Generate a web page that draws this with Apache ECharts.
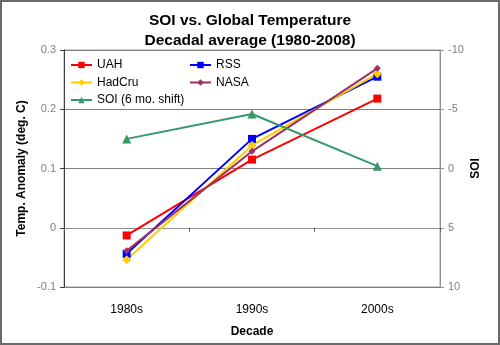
<!DOCTYPE html>
<html>
<head>
<meta charset="utf-8">
<script src="https://cdn.jsdelivr.net/npm/echarts@6/dist/echarts.min.js"></script>
<style>
  html, body { margin: 0; padding: 0; background: #fff; }
  #chart { width: 500px; height: 345px; box-sizing: border-box; border: 2px solid #6a6a6a; }
</style>
</head>
<body>
<div id="chart"></div>
<script>
// Decadal averages of temperature anomaly (deg. C) and SOI
const decades = ['1980s', '1990s', '2000s'];
const uah = [-0.013, 0.115, 0.218];
const rss = [-0.044, 0.150, 0.255];
const hadcru = [-0.054, 0.139, 0.260];
const nasa = [-0.039, 0.129, 0.269];
const soi = [-2.5, -4.6, -0.2];

const chart = echarts.init(document.getElementById('chart'));
const font = 'Liberation Sans, Arial, sans-serif';

function lineSeries(name, data, color, symbol, size, yIndex) {
  return {
    name: name, type: 'line', data: data, yAxisIndex: yIndex || 0,
    symbol: symbol, symbolSize: size, showSymbol: true,
    lineStyle: { color: color, width: 2 },
    itemStyle: { color: color },
    emphasis: { disabled: true },
    animation: false
  };
}

const legendText = { fontFamily: font, fontSize: 12, color: '#000' };

chart.setOption({
  animation: false,
  textStyle: { fontFamily: font },
  title: {
    text: 'SOI vs. Global Temperature\nDecadal average (1980-2008)',
    left: 'center', top: 4,
    textStyle: { fontFamily: font, fontSize: 15.5, fontWeight: 'bold', color: '#000', lineHeight: 20 }
  },
  legend: [
    {
      data: ['UAH', 'HadCru', 'SOI (6 mo. shift)'],
      orient: 'vertical', left: 68, top: 57, padding: 0, itemGap: 5.5,
      itemWidth: 21, itemHeight: 8, textStyle: legendText
    },
    {
      data: ['RSS', 'NASA'],
      orient: 'vertical', left: 187, top: 57, padding: 0, itemGap: 5.5,
      itemWidth: 21, itemHeight: 8, textStyle: legendText
    }
  ],
  grid: { left: 62, right: 58, top: 48, bottom: 52, show: true, borderColor: '#a0a0a0', borderWidth: 1 },
  xAxis: {
    type: 'category', data: decades, boundaryGap: true,
    name: 'Decade', nameLocation: 'middle', nameGap: 39,
    nameTextStyle: { fontFamily: font, fontSize: 12, fontWeight: 'bold', color: '#000' },
    axisLine: { lineStyle: { color: '#909090', width: 1 } },
    axisTick: { show: true, inside: false, length: 4, lineStyle: { color: '#606060' } },
    axisLabel: { fontFamily: font, fontSize: 12, color: '#000', margin: 17 }
  },
  yAxis: [
    {
      type: 'value', min: -0.1, max: 0.3, interval: 0.1,
      name: 'Temp. Anomaly (deg. C)', nameLocation: 'middle', nameGap: 36, nameRotate: 90,
      nameMoveOverlap: false,
      nameTextStyle: { fontFamily: font, fontSize: 12, fontWeight: 'bold', color: '#000' },
      axisLine: { show: true, lineStyle: { color: '#404040', width: 1 } },
      axisTick: { show: true, length: 4, lineStyle: { color: '#404040' } },
      axisLabel: { fontFamily: font, fontSize: 11, color: '#808080', margin: 8,
        formatter: v => (Math.abs(v) < 1e-9 ? '0' : String(Math.round(v * 10) / 10)) },
      splitLine: { show: true, lineStyle: { color: '#808080', width: 1 } }
    },
    {
      type: 'value', min: -10, max: 10, interval: 5, inverse: true, position: 'right',
      name: 'SOI', nameLocation: 'middle', nameGap: 30, nameRotate: 90,
      nameMoveOverlap: false,
      nameTextStyle: { fontFamily: font, fontSize: 12, fontWeight: 'bold', color: '#000' },
      axisLine: { show: true, lineStyle: { color: '#909090', width: 1 } },
      axisTick: { show: true, length: 4, lineStyle: { color: '#909090' } },
      axisLabel: { fontFamily: font, fontSize: 11, color: '#808080', margin: 8 },
      splitLine: { show: false }
    }
  ],
  series: [
    lineSeries('UAH', uah, '#ff0000', 'rect', 8),
    lineSeries('RSS', rss, '#0000ff', 'rect', 8),
    lineSeries('HadCru', hadcru, '#ffcc00', 'diamond', 9),
    lineSeries('NASA', nasa, '#993366', 'diamond', 7),
    lineSeries('SOI (6 mo. shift)', soi, '#339966', 'triangle', 9, 1)
  ]
});
</script>
</body>
</html>
